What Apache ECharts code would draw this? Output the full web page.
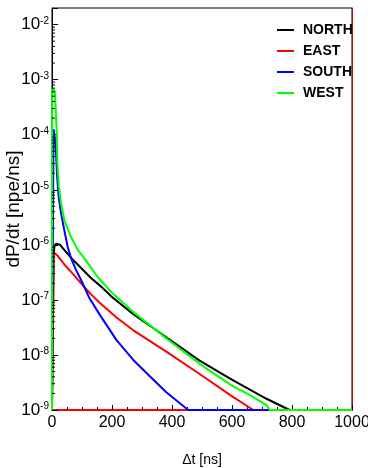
<!DOCTYPE html>
<html>
<head>
<meta charset="utf-8">
<script src="https://cdn.jsdelivr.net/npm/echarts@6/dist/echarts.min.js"></script>
<style>
  html, body { margin: 0; padding: 0; background: #fff; }
  #chart { width: 368px; height: 468px; }
</style>
</head>
<body>
<div id="chart"></div>
<script>
// values (dP/dt vs delta t)
const seriesNames = ['NORTH', 'EAST', 'SOUTH', 'WEST'];
const seriesColors = ['#000000', '#ff0000', '#0000ff', '#00ff00'];

const northT = [0, 4, 5, 8, 13, 19, 27, 41, 69, 97, 130, 164, 198, 271, 381, 492, 598, 715, 792, 1000];
const northV = [1e-9, 1e-9, 5.6e-7, 9.3e-7, 1.05e-6, 1.1e-6, 1.0e-6, 8.1e-7, 5.4e-7, 3.8e-7, 2.5e-7, 1.74e-7, 1.15e-7, 5.5e-8, 2.1e-8, 7.9e-9, 3.6e-9, 1.6e-9, 1e-9, 1e-9];

const eastT = [0, 5, 6, 8, 19, 41, 69, 97, 130, 159, 215, 271, 381, 492, 598, 671, 1000];
const eastV = [1e-9, 1e-9, 6.3e-7, 7.1e-7, 6.3e-7, 4.4e-7, 3.0e-7, 2.0e-7, 1.26e-7, 8.9e-8, 4.8e-8, 2.8e-8, 1.15e-8, 4.5e-9, 1.8e-9, 1e-9, 1e-9];

const southT = [0, 4, 5, 9, 11, 14, 17, 22, 30, 41, 52, 63, 80, 97, 125, 159, 215, 271, 326, 381, 454, 1000];
const southV = [1e-9, 1e-9, 1.26e-4, 1.26e-4, 7.9e-5, 4.0e-5, 1.78e-5, 7.6e-6, 3.8e-6, 1.86e-6, 9.3e-7, 5.8e-7, 3.5e-7, 2.3e-7, 1.07e-7, 5.4e-8, 1.86e-8, 8.1e-9, 4.1e-9, 2.1e-9, 1e-9, 1e-9];

const westT = [0, 0.5, 9, 12, 15, 18, 20, 23, 30, 41, 63, 86, 119, 152, 198, 271, 381, 492, 598, 660, 715, 726, 1000];
const westV = [1e-9, 6.9e-4, 6.3e-4, 3.2e-4, 1.4e-4, 3.2e-5, 2.0e-5, 1.15e-5, 5.8e-6, 2.8e-6, 1.4e-6, 8.1e-7, 4.7e-7, 2.6e-7, 1.38e-7, 6.0e-8, 2.0e-8, 6.9e-9, 2.8e-9, 1.86e-9, 1.23e-9, 1e-9, 1e-9];

const xTitle = 'Δt [ns]';
const yTitle = 'dP/dt [npe/ns]';

const yMin = 1e-9;
const yMax = 0.02;

const font = "'Liberation Sans', Arial, sans-serif";

// log-spaced minor ticks (2..9 per decade)
const minorY = [];
for (let e = -9; e <= -2; e++) {
  for (let m = 2; m <= 9; m++) {
    const v = m * Math.pow(10, e);
    if (v < yMax) minorY.push(v);
  }
}

const pairs = (t, v) => t.map((x, i) => [x, v[i]]);
const dataSets = [pairs(northT, northV), pairs(eastT, eastV), pairs(southT, southV), pairs(westT, westV)];

const chart = echarts.init(document.getElementById('chart'));

const lineSeries = seriesNames.map((name, idx) => ({
  name,
  type: 'line',
  data: dataSets[idx],
  showSymbol: false,
  symbol: 'none',
  lineStyle: { color: seriesColors[idx], width: 2 },
  itemStyle: { color: seriesColors[idx] },
  z: 3 + idx,
}));

const option = {
  animation: false,
  grid: {
    left: 52, right: 16, top: 8, bottom: 58,
    outerBoundsMode: 'none',
    containLabel: false,
    show: true, borderColor: '#000', borderWidth: 1,
  },
  legend: {
    data: seriesNames,
    orient: 'vertical',
    left: 272,
    top: 18,
    icon: 'rect',
    itemWidth: 17,
    itemHeight: 2,
    itemGap: 7,
    textStyle: {
      fontFamily: font, fontWeight: 'bold', fontSize: 14,
      lineHeight: 14, color: '#000', padding: [0, 0, 0, 4],
    },
  },
  xAxis: {
    type: 'value',
    min: 0,
    max: 1000,
    interval: 200,
    name: xTitle,
    nameLocation: 'middle',
    nameGap: 43,
    nameMoveOverlap: false,
    nameTextStyle: { fontFamily: font, fontSize: 14, color: '#000' },
    axisLine: { show: true, lineStyle: { color: '#ff0000', width: 2 } },
    axisTick: { show: true, inside: true, length: 5, lineStyle: { color: '#000' } },
    minorTick: { show: true, splitNumber: 4, length: 3, lineStyle: { color: '#000' } },
    axisLabel: {
      fontFamily: font, fontSize: 16, color: '#000', margin: 5,
      formatter: (v) => String(v),
    },
    splitLine: { show: false },
  },
  yAxis: [{
    type: 'log',
    logBase: 10,
    min: yMin,
    max: yMax,
    interval: 1,
    name: yTitle,
    nameLocation: 'middle',
    nameGap: 29,
    nameMoveOverlap: false,
    nameTextStyle: { fontFamily: font, fontSize: 19, color: '#000' },
    axisLine: { show: true, lineStyle: { color: '#000', width: 1 } },
    axisTick: { show: true, inside: true, length: 6, lineStyle: { color: '#000' } },
    axisLabel: {
      margin: 3,
      formatter: (v) => {
        const e = Math.log10(v);
        if (Math.abs(e - Math.round(e)) > 1e-6) return '';
        return '{b|10}{s|' + Math.round(e) + '}';
      },
      rich: {
        b: { fontFamily: font, fontSize: 17, lineHeight: 17, color: '#000' },
        s: { fontFamily: font, fontSize: 10, lineHeight: 10, verticalAlign: 'top', color: '#000', padding: [0, 0, 4, 0] },
      },
    },
    splitLine: { show: false },
  }, {
    type: 'log',
    logBase: 10,
    min: yMin,
    max: yMax,
    position: 'right',
    axisLine: { show: true, lineStyle: { color: '#aa1111', width: 1 } },
    axisTick: { show: false },
    axisLabel: { show: false },
    splitLine: { show: false },
  }],
  series: [
    ...lineSeries,
    {
      name: 'minorTicks',
      type: 'custom',
      silent: true,
      z: 10,
      clip: false,
      data: minorY.map(v => [0, v]),
      renderItem: (params, api) => {
        const p = api.coord([0, api.value(1)]);
        return {
          type: 'line',
          shape: { x1: p[0], y1: p[1], x2: p[0] + 3, y2: p[1] },
          style: { stroke: '#000', lineWidth: 1 },
        };
      },
    },
  ],
};

chart.setOption(option);
</script>
</body>
</html>
